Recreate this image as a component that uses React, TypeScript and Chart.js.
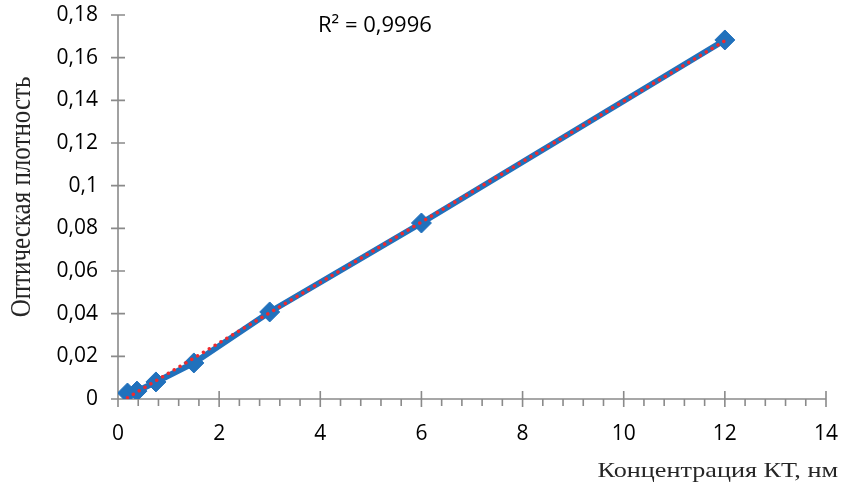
import React, { useEffect, useRef } from "react";
import { Chart, registerables } from "chart.js";

Chart.register(...registerables);

// ---- data ----
const concentration = [0.1875, 0.375, 0.75, 1.5, 3, 6, 12];
const opticalDensity = [0.0028, 0.0037, 0.008, 0.0169, 0.0408, 0.0825, 0.1683];
const trendX = [0.1875, 12];
const trendY = [0.0006, 0.1679];
const xRange = [0, 14];
const yRange = [0, 0.18];
const xStep = 2;
const yStep = 0.02;
const rSquaredLabel = "R² = 0,9996";
const xAxisTitle = "Концентрация КТ, нм";
const yAxisTitle = "Оптическая плотность";

// ---- style ----
const BLUE = "#2171BC";
const RED = "#EE2A2E";
const AXIS = "#8A8A8A";
const TITLE = "#262626";
const SANS = "'Open Sans', 'Noto Sans', sans-serif";
const SERIF = "'Liberation Serif', 'DejaVu Serif', serif";

const fmt = (v: number) => String(parseFloat(Number(v).toFixed(4))).replace(".", ",");

const excelAxes = {
  id: "excelAxes",
  beforeDatasetsDraw(chart: any) {
    const { ctx, chartArea, scales } = chart;
    const { left, right, top, bottom } = chartArea;
    const x = scales.x;
    const y = scales.y;
    ctx.save();
    ctx.strokeStyle = AXIS;
    ctx.lineWidth = 1.6;
    ctx.beginPath();
    ctx.moveTo(left, top);
    ctx.lineTo(left, bottom);
    ctx.moveTo(left, bottom);
    ctx.lineTo(right, bottom);
    x.ticks.forEach((t: any) => {
      const px = x.getPixelForValue(t.value);
      ctx.moveTo(px, bottom - 8);
      ctx.lineTo(px, bottom + 8);
    });
    for (let i = 0; i < x.ticks.length - 1; i++) {
      const a = x.ticks[i].value;
      const b = x.ticks[i + 1].value;
      for (let k = 1; k < 5; k++) {
        const px = x.getPixelForValue(a + ((b - a) * k) / 5);
        ctx.moveTo(px, bottom);
        ctx.lineTo(px, bottom + 7);
      }
    }
    y.ticks.forEach((t: any) => {
      const py = y.getPixelForValue(t.value);
      ctx.moveTo(left - 7, py);
      ctx.lineTo(left + 7, py);
    });
    ctx.stroke();
    ctx.restore();
  },
  afterDraw(chart: any) {
    const { ctx, chartArea } = chart;
    // R² label
    ctx.save();
    ctx.fillStyle = "#000";
    ctx.font = `22px ${SANS}`;
    ctx.textBaseline = "middle";
    ctx.textAlign = "left";
    ctx.fillText(rSquaredLabel, chartArea.left + 200, chartArea.top + 11);
    ctx.restore();

    // x-axis title (right-aligned under the axis)
    ctx.save();
    ctx.fillStyle = TITLE;
    ctx.font = `22px ${SERIF}`;
    ctx.textBaseline = "alphabetic";
    ctx.textAlign = "right";
    ctx.translate(chartArea.right + 12, chartArea.bottom + 78);
    ctx.scale(1.19, 1);
    ctx.fillText(xAxisTitle, 0, 0);
    ctx.restore();

    // y-axis title (rotated)
    ctx.save();
    ctx.fillStyle = TITLE;
    ctx.font = `25px ${SERIF}`;
    ctx.textBaseline = "middle";
    ctx.textAlign = "center";
    ctx.translate(chartArea.left - 96, (chartArea.top + chartArea.bottom) / 2 - 10);
    ctx.rotate(-Math.PI / 2);
    ctx.scale(1, 1.2);
    ctx.fillText(yAxisTitle, 0, 0);
    ctx.restore();
  },
};

export default function App() {
  const ref = useRef<HTMLCanvasElement | null>(null);

  useEffect(() => {
    if (!ref.current) return;
    const chart = new Chart(ref.current, {
      type: "scatter",
      data: {
        datasets: [
          {
            label: "trend",
            data: trendX.map((x, i) => ({ x, y: trendY[i] })),
            showLine: true,
            borderColor: RED,
            borderWidth: 3.5,
            borderDash: [0.01, 6.8],
            borderCapStyle: "round",
            pointRadius: 0,
            fill: false,
          },
          {
            label: "data",
            data: concentration.map((x, i) => ({ x, y: opticalDensity[i] })),
            showLine: true,
            borderColor: BLUE,
            backgroundColor: BLUE,
            borderWidth: 6,
            pointStyle: "rectRot",
            pointRadius: 10,
            pointBorderWidth: 1,
            pointBackgroundColor: BLUE,
            pointBorderColor: BLUE,
            fill: false,
          },
        ],
      },
      options: {
        responsive: false,
        animation: false,
        layout: { padding: { top: 15, right: 18, left: 0, bottom: 0 } },
        plugins: {
          legend: { display: false },
          tooltip: { enabled: false },
        },
        scales: {
          x: {
            type: "linear",
            min: xRange[0],
            max: xRange[1],
            ticks: {
              stepSize: xStep,
              color: "#000",
              font: { family: SANS, size: 21 },
              padding: 22,
              callback: (v: any) => fmt(v),
            },
            grid: { display: false, drawTicks: false },
            border: { display: false },
            title: { display: false, text: xAxisTitle },
            afterFit: (s: any) => {
              s.height = 89;
              s.paddingLeft = 0;
              s.paddingRight = 0;
            },
          },
          y: {
            type: "linear",
            min: yRange[0],
            max: yRange[1],
            ticks: {
              stepSize: yStep,
              color: "#000",
              font: { family: SANS, size: 21 },
              padding: 20,
              callback: (v: any) => fmt(v),
            },
            grid: { display: false, drawTicks: false },
            border: { display: false },
            title: { display: false, text: yAxisTitle },
            afterFit: (s: any) => {
              s.width = 118;
              s.paddingTop = 0;
              s.paddingBottom = 0;
            },
          },
        },
      },
      plugins: [excelAxes],
    } as any);
    return () => chart.destroy();
  }, []);

  return (
    <div style={{ position: "absolute", left: 0, top: 0, width: 844, height: 488, background: "#fff" }}>
      <canvas ref={ref} width={844} height={488} />
    </div>
  );
}
